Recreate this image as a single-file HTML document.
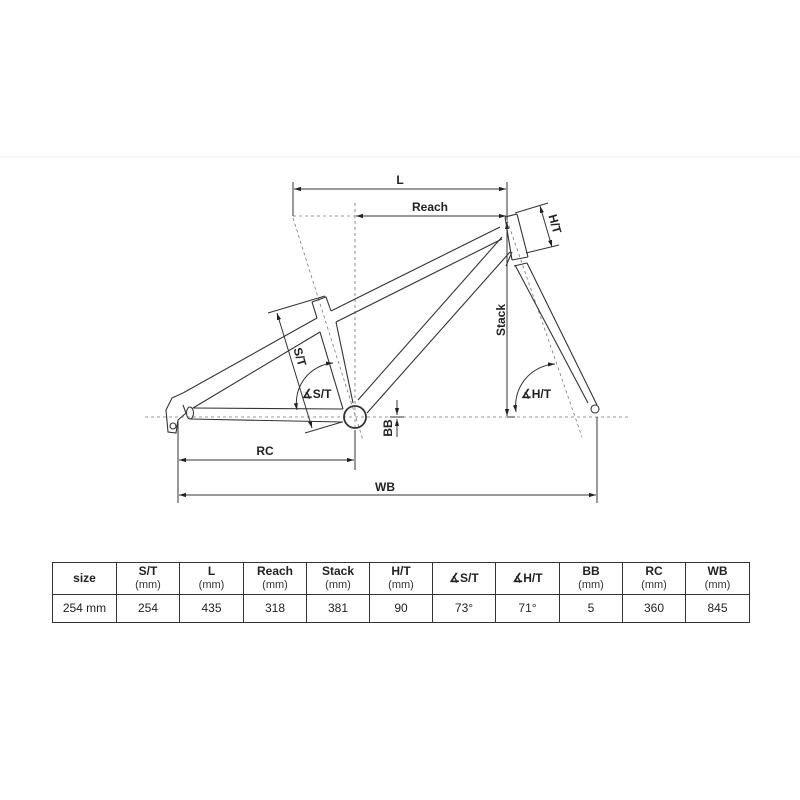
<!DOCTYPE html>
<html><head><meta charset="utf-8"><style>
body{margin:0;background:#fff;width:800px;height:800px;overflow:hidden;font-family:"Liberation Sans",sans-serif}
svg{position:absolute;left:0;top:0}
table{position:absolute;left:52px;top:562px;border-collapse:collapse;font-size:12px;color:#222}
td{border:1px solid #333;text-align:center;padding:0;line-height:13px}
tr.h td{height:31px}
tr.d td{height:27px;font-size:12px}
small{font-size:11px;color:#333}
</style></head><body>
<svg width="800" height="800" viewBox="0 0 800 800" font-family="Liberation Sans" font-weight="bold" font-size="12" fill="none" stroke="#333" stroke-width="1">
<defs><marker id="a" viewBox="0 0 10 10" refX="10" refY="5" markerWidth="7" markerHeight="7" orient="auto-start-reverse"><path d="M0,2 L10,5 L0,8z" fill="#222" stroke="none"/></marker></defs>
<line x1="0" y1="157" x2="800" y2="157" stroke="#eee"/>
<g stroke="#777" stroke-dasharray="3,3" stroke-width="0.8">
<line x1="145" y1="417" x2="628" y2="417"/>
<line x1="355" y1="203" x2="355" y2="440"/>
<line x1="293" y1="218" x2="363" y2="440"/>
<line x1="293" y1="216" x2="355" y2="216"/>
<line x1="507" y1="220" x2="582" y2="437"/>
</g>
<line x1="293" y1="182" x2="293" y2="216"/>
<line x1="507" y1="182" x2="507" y2="220"/>
<line x1="294" y1="189" x2="506" y2="189" marker-start="url(#a)" marker-end="url(#a)"/>
<line x1="356" y1="216" x2="506" y2="216" marker-start="url(#a)" marker-end="url(#a)"/>
<line x1="507" y1="222" x2="507" y2="416" marker-start="url(#a)" marker-end="url(#a)"/>
<line x1="507" y1="417" x2="515" y2="417"/>
<line x1="178" y1="420" x2="178" y2="503"/>
<line x1="597" y1="417" x2="597" y2="503"/>
<line x1="355" y1="430" x2="355" y2="470"/>
<line x1="179" y1="460" x2="354" y2="460" marker-start="url(#a)" marker-end="url(#a)"/>
<line x1="179" y1="495" x2="596" y2="495" marker-start="url(#a)" marker-end="url(#a)"/>
<line x1="397" y1="400" x2="397" y2="415" marker-end="url(#a)"/>
<line x1="397" y1="437" x2="397" y2="419" marker-end="url(#a)"/>
<line x1="390" y1="417" x2="404" y2="417"/>
<line x1="268" y1="313" x2="325" y2="296"/>
<line x1="305" y1="433" x2="342" y2="422"/>
<line x1="277" y1="313" x2="312" y2="428" marker-start="url(#a)" marker-end="url(#a)"/>
<line x1="515" y1="213" x2="548" y2="203"/>
<line x1="526" y1="253" x2="559" y2="245"/>
<line x1="540" y1="206" x2="552" y2="247" marker-start="url(#a)" marker-end="url(#a)"/>
<path d="M297,410 A40,40 0 0 1 333,363" marker-start="url(#a)" marker-end="url(#a)"/>
<path d="M516,412 A42,42 0 0 1 555,364" marker-start="url(#a)" marker-end="url(#a)"/>
<g stroke="#333" stroke-width="1.1">
<!-- top tube upper + seat stay upper -->
<path d="M500,227 L331,311"/>
<path d="M317,318 L183,393"/>
<path d="M502,239 L336,322"/>
<path d="M320,332 L193,408"/>
<!-- seat tube -->
<path d="M312,302 L317,318 M320,332 L343,409"/>
<path d="M312,302 L326,297 L331,311 M336,322 L353,403"/>
<!-- down tube -->
<path d="M358,400 L502,237"/>
<path d="M367,413 L510,252"/>
<path d="M506,266 L512,252"/>
<!-- chainstay -->
<path d="M193,408 L343,409"/>
<path d="M190,419 L343,422"/>
<!-- head tube -->
<path d="M505,217 L512,260 M517,214 L528,257 M505,217 L517,214"/>
<path d="M512,260 L528,257 M514,266 L527,263"/>
<path d="M515,265 L588,403 M527,263 L597,405"/>
<circle cx="595" cy="409" r="4"/>
<path d="M183,393 L172,398 L166,410 L168,432 L176,433 L178,420 L186,413 L183,405"/>
<ellipse cx="190" cy="413" rx="3.5" ry="6"/>
<circle cx="173" cy="426" r="3"/>
<circle cx="355" cy="417" r="11" stroke-width="1.8"/>
</g>
<g fill="#222" stroke="none">
<text x="400" y="184" text-anchor="middle">L</text>
<text x="430" y="211" text-anchor="middle">Reach</text>
<text x="265" y="455" text-anchor="middle">RC</text>
<text x="385" y="491" text-anchor="middle">WB</text>
<text transform="translate(505,320) rotate(-90)" text-anchor="middle">Stack</text>
<text transform="translate(392,428) rotate(-90)" text-anchor="middle">BB</text>
<text transform="translate(551,225) rotate(74)" text-anchor="middle">H/T</text>
<text transform="translate(296,358) rotate(74)" text-anchor="middle">S/T</text>
<text x="302" y="398">∡S/T</text>
<text x="521" y="398">∡H/T</text>
</g>
</svg>
<table>
<tr class="h"><td style="width:63px"><b>size</b></td><td style="width:62px"><b>S/T</b><br><small>(mm)</small></td><td style="width:63px"><b>L</b><br><small>(mm)</small></td><td style="width:62px"><b>Reach</b><br><small>(mm)</small></td><td style="width:62px"><b>Stack</b><br><small>(mm)</small></td><td style="width:62px"><b>H/T</b><br><small>(mm)</small></td><td style="width:62px"><b>∡S/T</b></td><td style="width:63px"><b>∡H/T</b></td><td style="width:62px"><b>BB</b><br><small>(mm)</small></td><td style="width:62px"><b>RC</b><br><small>(mm)</small></td><td style="width:63px"><b>WB</b><br><small>(mm)</small></td></tr>
<tr class="d"><td>254 mm</td><td>254</td><td>435</td><td>318</td><td>381</td><td>90</td><td>73°</td><td>71°</td><td>5</td><td>360</td><td>845</td></tr>
</table>
</body></html>
